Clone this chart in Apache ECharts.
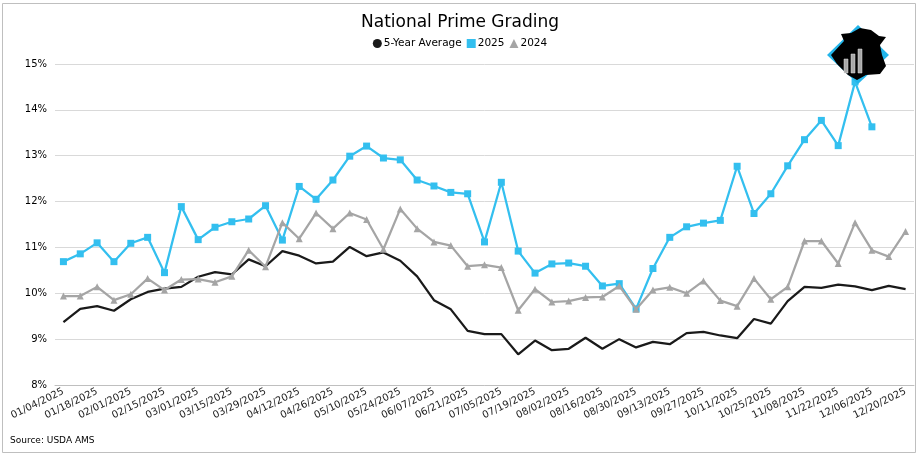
<!DOCTYPE html>
<html>
<head>
<meta charset="utf-8">
<script src="https://cdn.jsdelivr.net/npm/echarts@6/dist/echarts.min.js"></script>
<style>
html,body{margin:0;padding:0;background:#fff;}
#chart{width:920px;height:456px;}
</style>
</head>
<body>
<div id="chart"></div>
<script>
var weeks = ["01/04/2025","01/11/2025","01/18/2025","01/25/2025","02/01/2025","02/08/2025","02/15/2025","02/22/2025","03/01/2025","03/08/2025","03/15/2025","03/22/2025","03/29/2025","04/05/2025","04/12/2025","04/19/2025","04/26/2025","05/03/2025","05/10/2025","05/17/2025","05/24/2025","05/31/2025","06/07/2025","06/14/2025","06/21/2025","06/28/2025","07/05/2025","07/12/2025","07/19/2025","07/26/2025","08/02/2025","08/09/2025","08/16/2025","08/23/2025","08/30/2025","09/06/2025","09/13/2025","09/20/2025","09/27/2025","10/04/2025","10/11/2025","10/18/2025","10/25/2025","11/01/2025","11/08/2025","11/15/2025","11/22/2025","11/29/2025","12/06/2025","12/13/2025","12/20/2025"];

var avg5 = [9.37,9.66,9.72,9.62,9.87,10.03,10.10,10.14,10.36,10.46,10.41,10.74,10.59,10.92,10.82,10.65,10.69,11.01,10.81,10.89,10.71,10.37,9.85,9.65,9.18,9.11,9.11,8.67,8.97,8.76,8.79,9.03,8.79,9.00,8.82,8.94,8.89,9.13,9.16,9.08,9.02,9.44,9.34,9.83,10.14,10.12,10.19,10.15,10.07,10.16,10.09];

var y2025 = [10.69,10.86,11.10,10.69,11.09,11.22,10.45,11.89,11.17,11.44,11.56,11.62,11.91,11.16,12.33,12.05,12.47,12.99,13.21,12.95,12.91,12.47,12.34,12.20,12.17,11.12,12.42,10.92,10.44,10.64,10.66,10.59,10.16,10.21,9.66,10.54,11.22,11.45,11.53,11.59,12.77,11.74,12.17,12.78,13.35,13.77,13.22,14.61,13.63];

var y2024 = [9.94,9.94,10.14,9.85,9.98,10.32,10.07,10.30,10.31,10.24,10.37,10.94,10.58,11.54,11.19,11.75,11.41,11.75,11.61,10.96,11.84,11.41,11.12,11.04,10.59,10.62,10.56,9.63,10.09,9.81,9.83,9.91,9.92,10.16,9.65,10.07,10.13,10.00,10.27,9.84,9.72,10.32,9.87,10.14,11.14,11.14,10.65,11.54,10.94,10.80,11.35];

var seriesNames = ["5-Year Average","2025","2024"];
var titleText = "National Prime Grading";
var sourceText = "Source: USDA AMS";

var FONT = "DejaVu Sans";
var chart = echarts.init(document.getElementById('chart'), null, {renderer:'canvas'});
chart.setOption({
  animation:false,
  backgroundColor:'#fff',
  textStyle:{fontFamily:FONT},
  title:{text:titleText,left:'center',top:9,textStyle:{fontFamily:FONT,fontSize:17,fontWeight:'normal',color:'#000'}},
  legend:{
    top:33,left:'center',itemWidth:9,itemHeight:9,itemGap:5,
    textStyle:{fontFamily:FONT,fontSize:10.5,color:'#000',padding:[0,0,0,-3]},
    data:[{name:seriesNames[0],icon:'circle'},{name:seriesNames[1],icon:'rect'},{name:seriesNames[2],icon:'triangle'}]
  },
  grid:{left:55,right:6,top:64,bottom:71,containLabel:false},
  xAxis:{
    type:'category',data:weeks,boundaryGap:true,
    axisLine:{lineStyle:{color:'#BFBFBF',width:1}},
    axisTick:{show:false},
    axisLabel:{interval:1,rotate:26,fontSize:10,color:'#222',fontFamily:FONT,margin:6}
  },
  yAxis:{
    type:'value',min:8,max:15,interval:1,
    axisLine:{show:false},axisTick:{show:false},
    splitLine:{lineStyle:{color:'#D9D9D9',width:1}},
    axisLabel:{formatter:'{value}%',fontSize:10,color:'#000',fontFamily:FONT,margin:8}
  },
  series:[
    {name:seriesNames[0],type:'line',data:avg5,showSymbol:false,symbol:'circle',
     lineStyle:{color:'#1A1A1A',width:2.25},itemStyle:{color:'#1A1A1A'},z:2},
    {name:seriesNames[1],type:'line',data:y2025,symbol:'rect',symbolSize:7,
     lineStyle:{color:'#33BFEF',width:2.25},itemStyle:{color:'#33BFEF'},z:3},
    {name:seriesNames[2],type:'line',data:y2024,symbol:'triangle',symbolSize:7,
     lineStyle:{color:'#A5A5A5',width:2.25},itemStyle:{color:'#A5A5A5'},z:4}
  ],
  graphic:[
    {type:'rect',shape:{x:2.5,y:3.5,width:913,height:449},style:{fill:null,stroke:'#BFBFBF',lineWidth:1},z:0,silent:true},
    {type:'text',left:10,top:436,style:{text:sourceText,fontFamily:FONT,fontSize:9,fill:'#000'},z:100},
    {type:'polygon',shape:{points:[[858,25],[889,55],[858,84],[827,55]]},style:{fill:'#22B5EA'},z:100},
    {type:'polygon',shape:{points:[[831,55],[844,41],[841,34],[851,33],[860,28],[871,30],[879,36],[886,37],[880,45],[882,55],[886,66],[880,74],[866,75],[857,80],[848,75],[837,64]]},style:{fill:'#000'},z:101},
    {type:'rect',shape:{x:844,y:59,width:4,height:14},style:{fill:'#A8A8A8',stroke:'#E0E0E0',lineWidth:0.5},z:102},
    {type:'rect',shape:{x:851,y:54,width:4,height:19},style:{fill:'#A8A8A8',stroke:'#E0E0E0',lineWidth:0.5},z:102},
    {type:'rect',shape:{x:858,y:49,width:4,height:24},style:{fill:'#A8A8A8',stroke:'#E0E0E0',lineWidth:0.5},z:102}
  ]
});
</script>
</body>
</html>
